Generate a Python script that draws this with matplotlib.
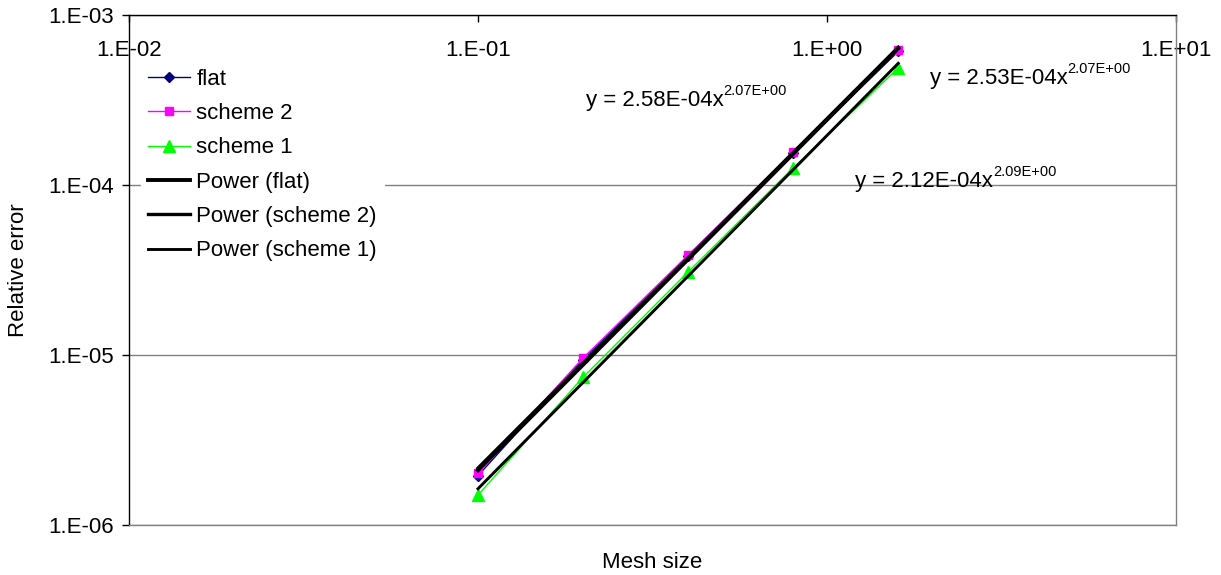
import numpy as np
import matplotlib
matplotlib.use('Agg')
import matplotlib.pyplot as plt
from matplotlib.ticker import FixedLocator, NullLocator

plt.rcParams['font.family'] = ['Liberation Sans', 'DejaVu Sans']

# mesh sizes and relative errors
mesh = [0.1, 0.2, 0.4, 0.8, 1.6]
flat = [1.95e-6, 9.4e-6, 3.8e-5, 1.54e-4, 6.1e-4]
scheme2 = [2.02e-6, 9.6e-6, 3.87e-5, 1.56e-4, 6.22e-4]
scheme1 = [1.5e-6, 7.4e-6, 3.08e-5, 1.26e-4, 4.88e-4]

eq_flat = ('y = 2.53E-04x', '2.07E+00')
eq_s2 = ('y = 2.58E-04x', '2.07E+00')
eq_s1 = ('y = 2.12E-04x', '2.09E+00')

xticks = [0.01, 0.1, 1, 10]
xlabels = ['1.E-02', '1.E-01', '1.E+00', '1.E+01']
yticks = [1e-6, 1e-5, 1e-4, 1e-3]
ylabels = ['1.E-06', '1.E-05', '1.E-04', '1.E-03']

fs = 16
fig = plt.figure(figsize=(12.21, 5.75), dpi=100)
ax = fig.add_axes([129/1221, 1-525/575, (1176-129)/1221, (525-15)/575])
ax.set_xscale('log')
ax.set_yscale('log')
ax.set_xlim(0.01, 10)
ax.set_ylim(1e-6, 1e-3)


def power_fit(x, y):
    b, a = np.polyfit(np.log10(x), np.log10(y), 1)
    xs = np.array([x[0], x[-1]])
    return xs, 10**a * xs**b


ax.plot(mesh, flat, color='#000080', lw=1, marker='D', ms=5, label='flat', zorder=3)
ax.plot(mesh, scheme2, color='#FF00FF', lw=1, marker='s', ms=6, label='scheme 2', zorder=3)
ax.plot(mesh, scheme1, color='#00FF00', lw=1, marker='^', ms=9, label='scheme 1', zorder=3)

xs, ys = power_fit(mesh, flat)
ax.plot(xs, ys, color='black', lw=2.8, label='Power (flat)', zorder=4)
xs, ys = power_fit(mesh, scheme2)
ax.plot(xs, ys, color='black', lw=2.4, label='Power (scheme 2)', zorder=4)
xs, ys = power_fit(mesh, scheme1)
ax.plot(xs, ys, color='black', lw=2.1, label='Power (scheme 1)', zorder=4)

ax.xaxis.set_major_locator(FixedLocator(xticks))
ax.xaxis.set_minor_locator(NullLocator())
ax.set_xticklabels(xlabels)
ax.yaxis.set_major_locator(FixedLocator(yticks))
ax.yaxis.set_minor_locator(NullLocator())
ax.set_yticklabels(ylabels)

ax.tick_params(axis='x', which='major', top=True, bottom=False, labeltop=True,
               labelbottom=False, direction='in', length=5, width=1,
               pad=-33, labelsize=fs)
ax.tick_params(axis='y', which='major', direction='out', length=5, width=1,
               labelsize=fs, pad=6)

ax.grid(axis='y', color='#808080', lw=1, zorder=0)
ax.spines['top'].set_color('black')
ax.spines['left'].set_color('black')
ax.spines['bottom'].set_color('#808080')
ax.spines['right'].set_color('#808080')
for s in ax.spines.values():
    s.set_linewidth(1)

fig.text(19/1221, 1-270/575, 'Relative error', rotation=90, ha='center', va='center', fontsize=fs)
fig.text(652/1221, 1-563/575, 'Mesh size', ha='center', va='center', fontsize=fs)

leg = ax.legend(loc='upper left', bbox_to_anchor=(0.005, 0.921), frameon=True,
                fontsize=fs, handlelength=1.9, handletextpad=0.3,
                labelspacing=0.6, borderpad=0.3, borderaxespad=0.3)
leg.get_frame().set_edgecolor('white')
leg.get_frame().set_facecolor('white')
leg.get_frame().set_alpha(1)

for px, py, eq in [(586, 106, eq_s2), (930, 84, eq_flat), (855, 187, eq_s1)]:
    t = fig.text(px/1221, 1-py/575, eq[0], ha='left', va='baseline', fontsize=fs)
    ax.annotate(eq[1], xy=(1, 1), xycoords=t, xytext=(0, -6),
                textcoords='offset points', ha='left', va='bottom',
                fontsize=10.5, annotation_clip=False)

fig.savefig('out.png', dpi=100)
